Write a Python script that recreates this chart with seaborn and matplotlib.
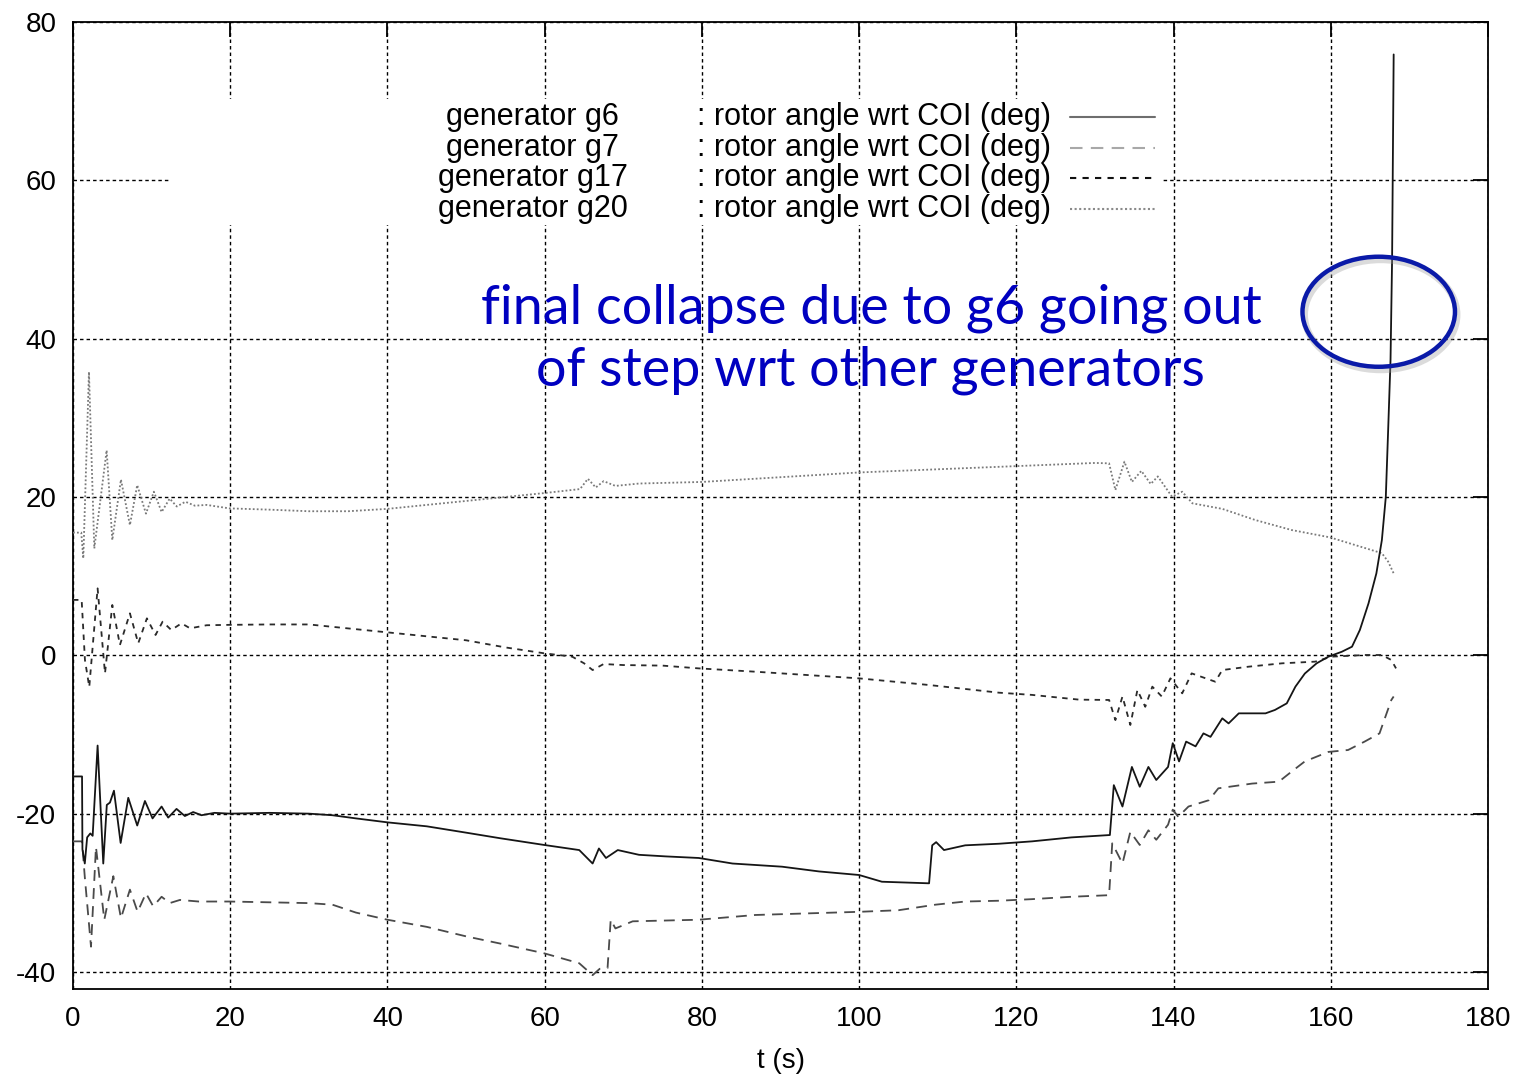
import numpy as np
import pandas as pd
import matplotlib
matplotlib.use("Agg")
import matplotlib.pyplot as plt
import matplotlib.transforms as mtrans
from matplotlib.patches import Ellipse, Rectangle
from matplotlib.lines import Line2D
import seaborn as sns

# ---------------- data ----------------
g6_t = [0, 1.15, 1.2, 1.5, 1.8, 2.2, 2.5, 3.13, 3.85, 4.3, 4.7, 5.21, 6.06, 7.03, 8.17, 9.15,
        10.12, 11.27, 12.11, 13.17, 14.23, 15.29, 16.35, 18, 20, 25, 30, 33, 36, 40, 45, 50,
        54.3, 59.97, 64.4, 66.1, 66.9, 67.8, 69.3, 72.0, 75.4, 79.6, 83.9, 90.2, 94.9, 100,
        102.9, 108.9, 109.3, 109.8, 110.8, 113.5, 117.8, 122, 127, 131.9, 132.4, 133.5, 134.7,
        135.7, 136.8, 137.8, 139.3, 139.9, 140.7, 141.6, 142.8, 143.8, 144.7, 146.2, 147.0,
        148.3, 151.7, 152.9, 154.4, 155.5, 156.7, 158.2, 159.7, 161.4, 162.7, 163.7, 164.8,
        165.8, 166.5, 167.0, 167.3, 167.6, 167.8, 168.0]
g6_v = [-15.3, -15.3, -24.5, -26.3, -23.0, -22.5, -22.8, -11.4, -26.3, -18.9, -18.6, -17.1,
        -23.7, -18.0, -21.5, -18.4, -20.6, -19.1, -20.5, -19.4, -20.3, -19.8, -20.2, -19.9,
        -20.0, -19.9, -20.0, -20.2, -20.6, -21.1, -21.6, -22.4, -23.1, -23.96, -24.6, -26.3,
        -24.4, -25.6, -24.6, -25.2, -25.4, -25.6, -26.3, -26.7, -27.3, -27.75, -28.6, -28.8,
        -24.0, -23.6, -24.6, -24.0, -23.8, -23.5, -23.0, -22.7, -16.4, -19.1, -14.1, -16.6,
        -14.1, -15.75, -14.1, -11.1, -13.4, -10.9, -11.5, -9.86, -10.3, -7.96, -8.6, -7.33,
        -7.33, -6.9, -6.07, -3.96, -2.3, -1.01, -0.17, 0.45, 1.09, 3.2, 6.56, 10.35, 14.56,
        20.0, 28.5, 37.3, 50.0, 75.9]

g7_t = [0, 1.15, 1.5, 2.29, 2.92, 3.98, 5.13, 6.1, 7.24, 8.22, 9.28, 10.2, 11.27, 12.3, 13.6,
        16, 19.9, 25, 30, 33, 36, 40, 45, 50, 54.3, 59.97, 64.4, 66.1, 67.0, 68.0, 68.4, 69.0,
        71.2, 79.6, 86.8, 100, 105, 109.7, 113.5, 117.8, 122, 127, 131.8, 132.2, 133.5, 134.5,
        135.7, 136.8, 137.8, 139.3, 139.9, 140.6, 141.9, 144.5, 145.7, 150.0, 153.4, 155.0,
        156.7, 159.7, 162.2, 164.3, 166.2, 167.7, 168.0]
g7_v = [-23.5, -23.5, -28.0, -36.8, -24.2, -33.4, -27.9, -33.2, -29.6, -32.4, -30.06, -31.7,
        -30.5, -31.3, -30.9, -31.1, -31.1, -31.2, -31.3, -31.5, -32.5, -33.4, -34.3, -35.5,
        -36.4, -37.65, -38.9, -40.4, -39.6, -39.5, -33.4, -34.5, -33.6, -33.4, -32.8, -32.4,
        -32.2, -31.5, -31.1, -31.0, -30.8, -30.5, -30.3, -23.75, -26.3, -22.3, -23.96, -22.1,
        -23.3, -21.4, -19.5, -20.4, -19.1, -18.3, -16.8, -16.2, -15.96, -14.7, -13.4, -12.2,
        -11.96, -10.9, -9.86, -5.65, -5.2]

g17_t = [0, 1.1, 1.52, 2.07, 3.13, 4.07, 5.0, 5.97, 7.24, 8.3, 9.4, 10.5, 11.4, 12.5, 13.8,
         14.9, 17, 20, 25, 30, 35, 40, 45, 50, 55, 59.97, 63.5, 65.0, 66.1, 67.5, 70, 75, 79.6,
         86.8, 100, 108.9, 117.8, 122, 128, 131.8, 132.6, 133.5, 134.5, 135.4, 136.4, 137.3,
         138.5, 139.6, 141.1, 142.3, 145.3, 146.2, 149.5, 153.8, 158.0, 160.1, 164.4, 166.5,
         167.7, 168.3]
g17_v = [7.0, 7.0, -0.6, -4.0, 8.46, -2.28, 6.36, 1.31, 5.3, 1.52, 4.67, 2.57, 4.25, 3.2, 4.04,
         3.41, 3.8, 3.85, 3.9, 3.9, 3.4, 2.9, 2.4, 1.9, 1.0, 0.25, -0.17, -1.0, -1.86, -1.1,
         -1.23, -1.3, -1.65, -2.07, -2.91, -3.75, -4.72, -5.0, -5.6, -5.64, -8.18, -5.2, -8.8,
         -4.38, -6.5, -3.96, -5.2, -2.91, -4.8, -2.28, -3.33, -1.86, -1.44, -1.01, -0.8, -0.17,
         0.04, 0.04, -0.59, -1.65]

g20_t = [0, 1.05, 1.31, 2.03, 2.71, 4.28, 5.0, 6.1, 7.24, 8.17, 9.28, 10.29, 11.27, 12.3, 13.2,
         14.3, 15.5, 17, 19.9, 25, 30, 35, 40, 45, 50, 55, 60, 64.5, 65.5, 66.5, 67.5, 69, 72,
         80, 90, 100, 110, 120, 130, 131.8, 132.6, 133.75, 134.7, 135.9, 137.1, 138.0, 139.8,
         141.1, 142.4, 146.2, 150.4, 155.0, 159.9, 166.5, 167.3, 168.0]
g20_v = [15.5, 15.5, 12.25, 35.8, 13.5, 25.9, 14.56, 22.2, 16.46, 21.5, 17.9, 20.67, 18.1, 19.8,
         18.8, 19.4, 18.9, 19.0, 18.56, 18.4, 18.2, 18.2, 18.5, 19.0, 19.5, 20.0, 20.5, 21.0,
         22.3, 21.2, 22.0, 21.4, 21.7, 21.9, 22.5, 23.1, 23.5, 23.9, 24.3, 24.25, 20.88, 24.46,
         21.9, 23.3, 21.64, 22.6, 20.04, 20.67, 19.2, 18.5, 17.09, 15.83, 14.9, 12.9, 11.83,
         10.35]

names = ["generator g6", "generator g7", "generator g17", "generator g20"]
quantity = ": rotor angle wrt COI (deg)"
x_ticks = [0, 20, 40, 60, 80, 100, 120, 140, 160, 180]
y_ticks = [-40, -20, 0, 20, 40, 60, 80]
note = "final collapse due to g6 going out\nof step wrt other generators"

# ---------------- figure ----------------
sns.set_theme(style="white")
plt.rcParams["font.family"] = ["Liberation Sans", "DejaVu Sans"]

fig = plt.figure(figsize=(15.32, 10.81), dpi=100)
ax = fig.add_axes([73 / 1532, 1 - 989 / 1081, 1415 / 1532, 967 / 1081])

series = [
    (g6_t, g6_v, "#151515", "-"),
    (g7_t, g7_v, "#4a4a4a", (0, (6, 4))),
    (g17_t, g17_v, "#2a2a2a", (0, (3, 3))),
    (g20_t, g20_v, "#7a7a7a", (0, (1, 1.2))),
]
order = [3, 2, 1, 0]
for i in order:
    t, v, c, ls = series[i]
    df = pd.DataFrame({"t": t, "v": v})
    sns.lineplot(data=df, x="t", y="v", ax=ax, color=c, lw=1.3, sort=False,
                 estimator=None, zorder=3 + (3 - i))
    ax.lines[-1].set_linestyle(ls)

ax.set_xlim(0, 180)
ax.set_ylim(-42.15, 80)
ax.set_xticks(x_ticks)
ax.set_yticks(y_ticks)
ax.set_xticklabels([str(x) for x in x_ticks])
ax.set_yticklabels([str(y) for y in y_ticks])
ax.grid(True, color="black", linestyle=(0, (2.5, 2.2)), linewidth=1.0, zorder=1)
ax.set_axisbelow(True)
ax.tick_params(direction="in", length=11, width=1.3, color="black", top=True, right=True,
               labelsize=20, pad=12, labelcolor="black")
for s in ax.spines.values():
    s.set_color("black")
    s.set_linewidth(1.3)
    s.set_visible(True)
ax.set_xlabel("t (s)", fontsize=20, labelpad=12, color="black")
ax.set_ylabel("")

# legend block (white background, gnuplot style)
ax.add_patch(Rectangle((0.0686, 0.790), 0.700, 0.130, transform=ax.transAxes,
                       facecolor="white", edgecolor="none", zorder=2))
rows = [0.9018, 0.8697, 0.8387, 0.8066]
sample_cols = ["#6e6e6e", "#a8a8a8", "#111111", "#8a8a8a"]
for r, nm, (t, v, c, ls), sc in zip(rows, names, series, sample_cols):
    ax.text(0.325, r, nm, transform=ax.transAxes, ha="center", va="center", fontsize=22,
            color="black", zorder=5)
    ax.text(0.441, r, quantity, transform=ax.transAxes, ha="left", va="center", fontsize=22,
            color="black", zorder=5)
    ax.add_line(Line2D([0.7046, 0.7647], [r, r], transform=ax.transAxes, color=sc,
                       linestyle=ls, lw=1.5, zorder=5))

# annotation
ax.text(101.5, 39.9, note, ha="center", va="center", fontsize=38.8, color="#0000C0",
        family=["Lato", "DejaVu Sans"], linespacing=1.32, zorder=6)
shadow_tr = mtrans.offset_copy(ax.transData, fig=fig, x=2, y=-3, units="dots")
ax.add_patch(Ellipse((166.1, 43.4), 19.4, 13.9, transform=shadow_tr, fill=False,
                     edgecolor="#999999", lw=5, alpha=0.35, zorder=6))
ax.add_patch(Ellipse((166.1, 43.4), 19.4, 13.9, fill=False, edgecolor="#0A1AA8", lw=3.2,
                     zorder=7))

fig.savefig("out.png", dpi=100, facecolor="white")
